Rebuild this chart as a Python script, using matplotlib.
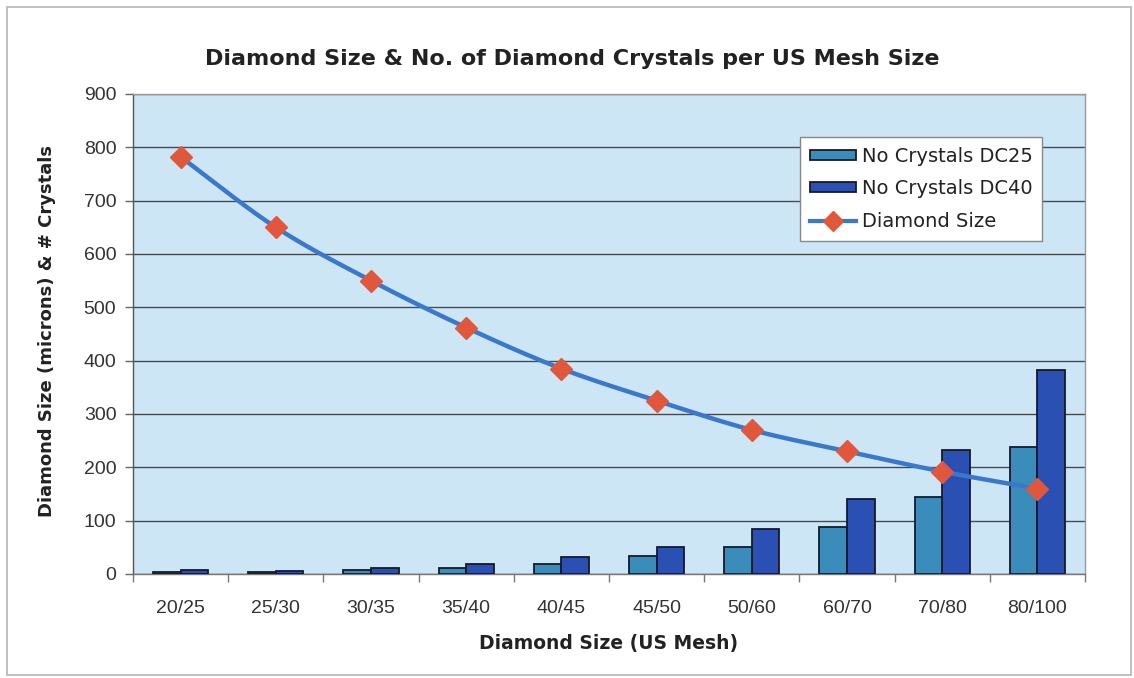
import numpy as np
import matplotlib
matplotlib.use("Agg")
import matplotlib.pyplot as plt
from matplotlib.patches import Rectangle
from matplotlib.lines import Line2D

plt.rcParams['font.family'] = ['Liberation Sans', 'DejaVu Sans']
WIDE = ['DejaVu Sans']

mesh_sizes = ["20/25", "25/30", "30/35", "35/40", "40/45",
              "45/50", "50/60", "60/70", "70/80", "80/100"]
crystals_dc25 = [4, 3, 7, 12, 19, 34, 51, 89, 144, 238]
crystals_dc40 = [7, 6, 12, 19, 31, 51, 85, 141, 232, 382]
diamond_size = [782, 650, 550, 462, 385, 325, 270, 230, 192, 160]
y_ticks = [0, 100, 200, 300, 400, 500, 600, 700, 800, 900]

title = "Diamond Size & No. of Diamond Crystals per US Mesh Size"
x_title = "Diamond Size (US Mesh)"
y_title = "Diamond Size (microns) & # Crystals"


def catmull_rom(x, y, n=30):
    """Smooth curve passing through every (x, y) point."""
    x = np.asarray(x, float)
    y = np.asarray(y, float)
    px = np.concatenate([[2 * x[0] - x[1]], x, [2 * x[-1] - x[-2]]])
    py = np.concatenate([[2 * y[0] - y[1]], y, [2 * y[-1] - y[-2]]])
    xs, ys = [], []
    t = np.linspace(0, 1, n, endpoint=False)
    for i in range(1, len(px) - 2):
        for arr, out in ((px, xs), (py, ys)):
            p0, p1, p2, p3 = arr[i - 1], arr[i], arr[i + 1], arr[i + 2]
            out.append(0.5 * ((2 * p1) + (-p0 + p2) * t
                              + (2 * p0 - 5 * p1 + 4 * p2 - p3) * t ** 2
                              + (-p0 + 3 * p1 - 3 * p2 + p3) * t ** 3))
    xs = np.concatenate(xs + [[x[-1]]])
    ys = np.concatenate(ys + [[y[-1]]])
    return xs, ys


fig = plt.figure(figsize=(11.34, 6.78), dpi=100)
fig.patch.set_facecolor("white")
fig.add_artist(Rectangle((7 / 1134, 3 / 678), 1124 / 1134, 668 / 678,
                         transform=fig.transFigure, fill=False,
                         edgecolor="#b5b5b5", linewidth=1.2))

ax = fig.add_axes([0.1173, 0.1534, 0.8395, 0.7080])
ax.set_facecolor("#cde6f6")

n = len(mesh_sizes)
x = np.arange(n)
bw = 0.29
c25, c40 = "#3a8cba", "#2a50b4"
ax.bar(x - bw / 2, crystals_dc25, width=bw, color=c25,
       edgecolor="#161a28", linewidth=1.3, zorder=3)
ax.bar(x + bw / 2, crystals_dc40, width=bw, color=c40,
       edgecolor="#161a28", linewidth=1.3, zorder=3)

line_c, mark_c = "#3a78cc", "#e0573c"
sx, sy = catmull_rom(x, diamond_size)
ax.plot(sx, sy, color=line_c, linewidth=3.2, zorder=4,
        solid_capstyle="round")
ax.plot(x, diamond_size, linestyle="none", marker="D", markersize=11,
        color=mark_c, markeredgecolor=mark_c, zorder=5)

ax.set_xlim(-0.5, n - 0.5)
ax.set_ylim(0, 900)
ax.set_yticks(y_ticks)
ax.yaxis.grid(True, color="#4a4a4a", linewidth=1.0, zorder=1)
ax.set_axisbelow(True)

ax.set_xticks(x)
ax.set_xticklabels(mesh_sizes)
ax.set_xticks(np.arange(n + 1) - 0.5, minor=True)
ax.tick_params(axis="x", which="major", length=0, pad=19,
               labelsize=14, labelcolor="#333333")
ax.tick_params(axis="x", which="minor", length=6, width=1, color="#777777",
               direction="out")
ax.tick_params(axis="y", length=6, width=1, color="#666666", pad=6,
               labelsize=14, labelcolor="#333333")

ax.spines["left"].set_color("#555555")
ax.spines["bottom"].set_color("#777777")
ax.spines["top"].set_color("#9a9a9a")
ax.spines["right"].set_color("#9a9a9a")
for s in ax.spines.values():
    s.set_linewidth(1.0)

ax.set_xlabel(x_title, fontsize=13.5, fontweight="bold", color="#222222",
              family=WIDE, va="center")
ax.xaxis.set_label_coords(0.5, -0.1438)
ax.set_ylabel(y_title, fontsize=13, fontweight="bold", color="#222222",
              family=WIDE, va="center")
ax.yaxis.set_label_coords(-0.0903, 0.506)
fig.text(0.5045, 0.913, title, ha="center", va="center", fontsize=16,
         fontweight="bold", color="#222222", family=WIDE)

handles = [
    Rectangle((0, 0), 1, 1, facecolor=c25, edgecolor="#161a28",
              linewidth=1.3),
    Rectangle((0, 0), 1, 1, facecolor=c40, edgecolor="#161a28",
              linewidth=1.3),
    Line2D([], [], color=line_c, linewidth=3, marker="D", markersize=10,
           markerfacecolor=mark_c, markeredgecolor=mark_c),
]
labels = ["No Crystals DC25", "No Crystals DC40", "Diamond Size"]
leg = ax.legend(handles, labels, loc="upper left",
                bbox_to_anchor=(0.7006, 0.9104),
                prop={"family": WIDE, "size": 14},
                frameon=True, fancybox=False, framealpha=1,
                facecolor="white", edgecolor="#888888",
                handlelength=2.37, handleheight=0.42, handletextpad=0.3,
                labelspacing=0.7, borderpad=0.5, borderaxespad=0)
leg.get_frame().set_linewidth(1.0)
for t in leg.get_texts():
    t.set_color("#222222")

fig.savefig("out.png", dpi=100, facecolor="white")
